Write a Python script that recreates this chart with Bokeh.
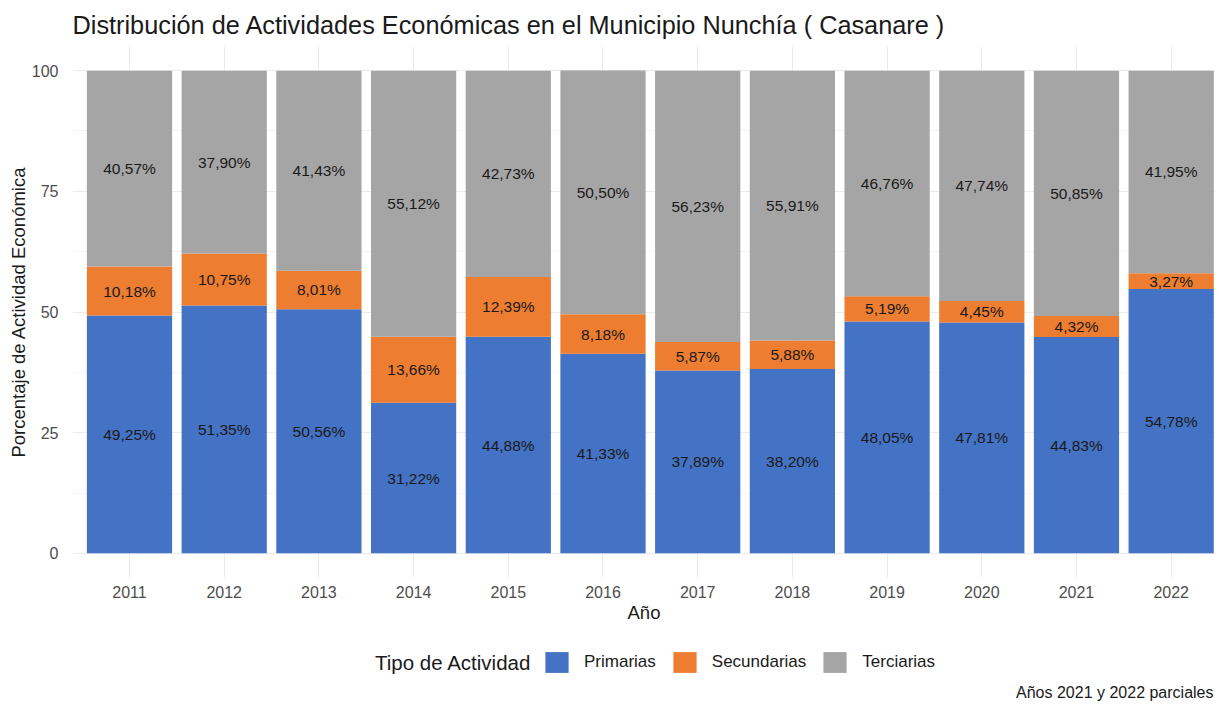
from bokeh.plotting import figure
from bokeh.layouts import column
from bokeh.models import ColumnDataSource, FixedTicker, Legend, LegendItem, Range1d, Label
from bokeh.core.properties import value
from bokeh.embed import file_html
from bokeh.resources import INLINE

# ---- data ----
years = [2011, 2012, 2013, 2014, 2015, 2016, 2017, 2018, 2019, 2020, 2021, 2022]
primarias = [49.25, 51.35, 50.56, 31.22, 44.88, 41.33, 37.89, 38.20, 48.05, 47.81, 44.83, 54.78]
secundarias = [10.18, 10.75, 8.01, 13.66, 12.39, 8.18, 5.87, 5.88, 5.19, 4.45, 4.32, 3.27]
terciarias = [40.57, 37.90, 41.43, 55.12, 42.73, 50.50, 56.23, 55.91, 46.76, 47.74, 50.85, 41.95]
tipos = ["Primarias", "Secundarias", "Terciarias"]
colores = ["#4472C4", "#ED7D31", "#A5A5A5"]
y_ticks = [0, 25, 50, 75, 100]
y_minor = [12.5, 37.5, 62.5, 87.5]
titulo = "Distribución de Actividades Económicas en el Municipio Nunchía ( Casanare )"
titulo_leyenda = "Tipo de Actividad"
nota = "Años 2021 y 2022 parciales"

FONT = "Liberation Sans"
W = 1215

src = ColumnDataSource(dict(year=years, Primarias=primarias,
                            Secundarias=secundarias, Terciarias=terciarias))

# label positions (middle of each stacked segment)
lx, ly, lt = [], [], []
for i, yr in enumerate(years):
    base = 0.0
    for serie in (primarias, secundarias, terciarias):
        v = serie[i]
        lx.append(yr)
        ly.append(base + v / 2.0)
        lt.append(f"{v:.2f}".replace(".", ",") + "%")
        base += v
lab_src = ColumnDataSource(dict(x=lx, y=ly, label=lt))

# ---------------- main chart ----------------
p = figure(width=W, height=630, output_backend="svg", toolbar_location=None,
           x_range=Range1d(2010.398, 2022.468), y_range=Range1d(-5, 105),
           min_border_left=72, min_border_right=0, min_border_top=46,
           min_border_bottom=53, title=titulo)
p.outline_line_color = None
p.background_fill_color = "white"
p.border_fill_color = "white"

renderers = p.vbar_stack(tipos, x="year", width=0.9, source=src,
                         fill_color=colores, line_color=None)

p.text(x="x", y="y", text="label", source=lab_src, text_align="center",
       text_baseline="middle", text_font=value(FONT), text_font_size="15.5px",
       text_color="#1A1A1A")

p.title.text_font = FONT
p.title.text_font_size = "25.3px"
p.title.text_font_style = "normal"
p.title.text_color = "#1A1A1A"
p.title.align = "left"
p.title.standoff = 16

p.xaxis.ticker = FixedTicker(ticks=years)
p.yaxis.ticker = FixedTicker(ticks=y_ticks, minor_ticks=y_minor)
p.xaxis.axis_label = "Año"
p.yaxis.axis_label = "Porcentaje de Actividad Económica"
for ax in p.axis:
    ax.axis_line_color = None
    ax.major_tick_line_color = None
    ax.minor_tick_line_color = None
    ax.major_tick_out = 0
    ax.major_tick_in = 0
    ax.major_label_text_font = FONT
    ax.major_label_text_font_size = "16px"
    ax.major_label_text_color = "#4D4D4D"
    ax.axis_label_text_font = FONT
    ax.axis_label_text_font_size = "18.5px"
    ax.axis_label_text_font_style = "normal"
    ax.axis_label_text_color = "#1A1A1A"
p.xaxis.major_label_standoff = 8
p.xaxis.axis_label_standoff = 1
p.yaxis.major_label_standoff = 10
p.yaxis.axis_label_standoff = 0

p.xgrid.grid_line_color = "#EBEBEB"
p.xgrid.grid_line_width = 1.1
p.ygrid.grid_line_color = "#EBEBEB"
p.ygrid.grid_line_width = 1.1
p.ygrid.minor_grid_line_color = "#EBEBEB"
p.ygrid.minor_grid_line_width = 0.55

# ---------------- legend + caption strip (frame aligned with the chart) ----------------
H2 = 72
p2 = figure(width=W, height=H2, output_backend="svg", toolbar_location=None,
            x_range=Range1d(0, 1), y_range=Range1d(0, 1),
            x_axis_location=None, y_axis_location=None,
            min_border_left=0, min_border_right=0, min_border_top=0,
            min_border_bottom=0)
p2.outline_line_color = None
p2.xgrid.visible = False
p2.ygrid.visible = False
p2.border_fill_color = "white"

# same stacked series (outside this strip's view) -> used only as legend keys
keys = p2.vbar_stack(tipos, x="year", width=0.9, source=src,
                     fill_color=colores, line_color=None)
legend = Legend(items=[LegendItem(label=t, renderers=[k]) for t, k in zip(tipos, keys)],
                location=(470, 27), orientation="horizontal",
                glyph_width=29, glyph_height=26, label_height=26,
                label_standoff=13, spacing=14, padding=0, margin=0,
                border_line_color=None, background_fill_alpha=0,
                label_text_font=FONT, label_text_font_size="17px",
                label_text_color="#1A1A1A")
p2.add_layout(legend, "center")

p2.add_layout(Label(x=459, y=40, x_units="screen", y_units="screen",
                    text=titulo_leyenda, text_align="right", text_baseline="middle",
                    text_font=FONT, text_font_size="20.5px", text_color="#1A1A1A"))
p2.add_layout(Label(x=1141, y=10, x_units="screen", y_units="screen",
                    text=nota, text_align="right", text_baseline="middle",
                    text_font=FONT, text_font_size="16px", text_color="#1A1A1A"))

layout = column(p, p2, spacing=0)

with open("out.html", "w", encoding="utf-8") as f:
    f.write(file_html(layout, INLINE))
